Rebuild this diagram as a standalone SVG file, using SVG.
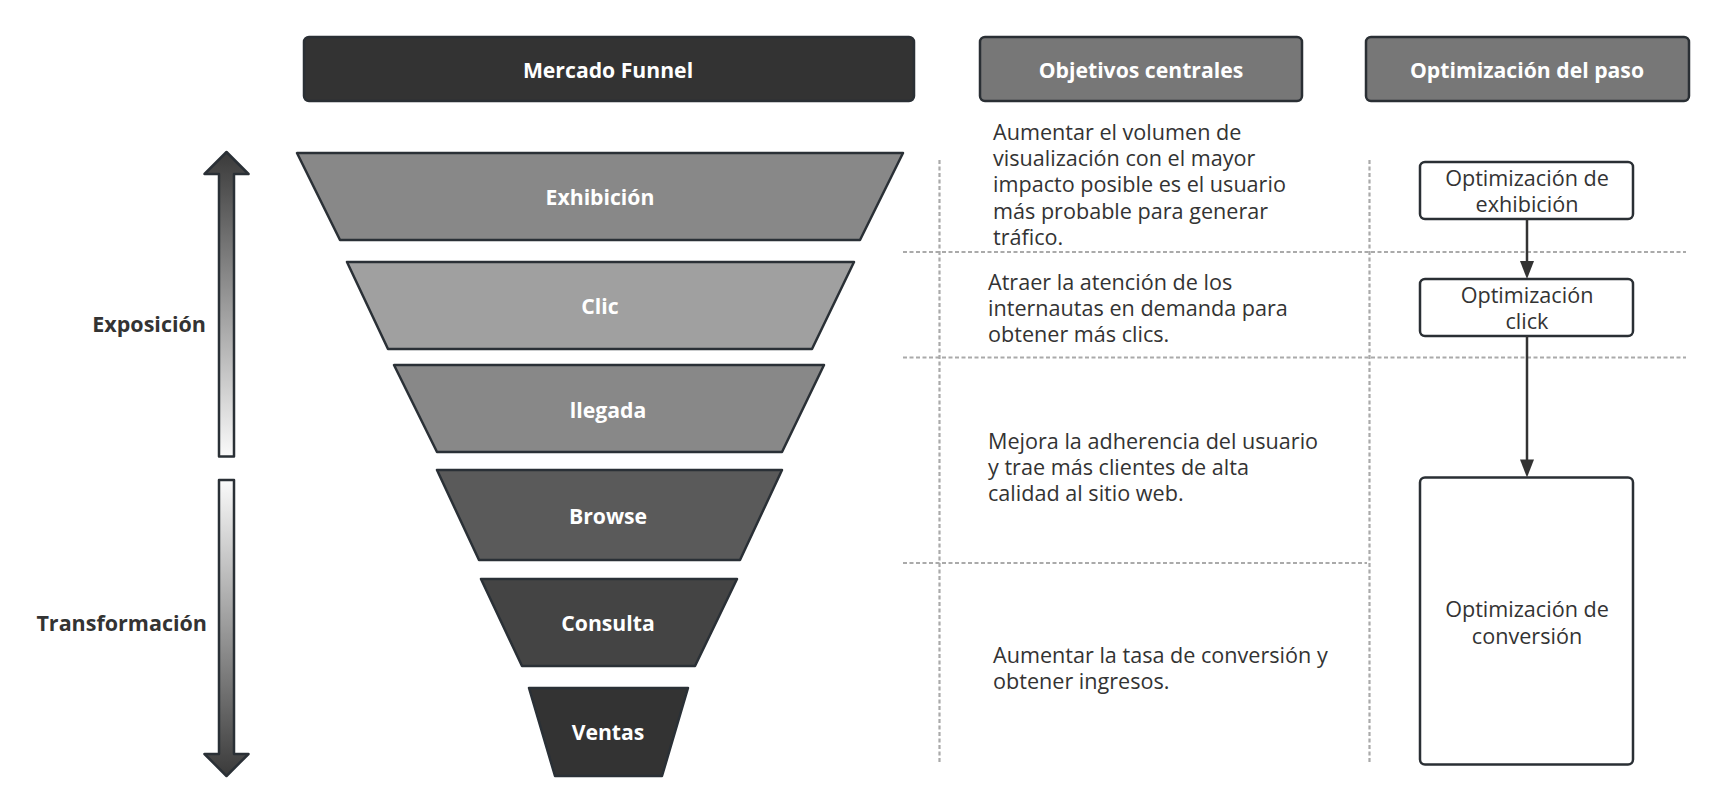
<svg xmlns="http://www.w3.org/2000/svg" width="1725" height="812" viewBox="0 0 1725 812">
<style>
.hdr{stroke:#2a2f34;stroke-width:2.5}
.trap{stroke:#2a3036;stroke-width:2.5;stroke-linejoin:round}
.bt{font-family:"Open Sans","Noto Sans",sans-serif;font-weight:bold;font-size:21.2px;fill:#fff;text-anchor:middle;dominant-baseline:central}
.lbl{font-family:"Open Sans","Noto Sans",sans-serif;font-weight:bold;font-size:21.5px;fill:#333;text-anchor:end;dominant-baseline:central}
.tx{font-family:"Open Sans","Noto Sans",sans-serif;font-size:21.6px;fill:#333;dominant-baseline:central}
.bx{fill:#fff;stroke:#2a2f34;stroke-width:2.5}
.bxt{font-family:"Open Sans","Noto Sans",sans-serif;font-size:21.6px;fill:#333;text-anchor:middle;dominant-baseline:central}
.grid{stroke:#aaa;stroke-width:2.2;stroke-dasharray:4 2.5;fill:none}
.conn{stroke:#333;stroke-width:2.5;fill:none}
</style>
<defs>
<linearGradient id="gUp" x1="0" y1="0" x2="0" y2="1">
<stop offset="0" stop-color="#3a3a3a"/>
<stop offset="1" stop-color="#fafafa"/>
</linearGradient>
<linearGradient id="gDown" x1="0" y1="0" x2="0" y2="1">
<stop offset="0" stop-color="#fafafa"/>
<stop offset="1" stop-color="#3a3a3a"/>
</linearGradient>
</defs>
<rect width="1725" height="812" fill="#fff"/>

<g id="grid-lines">
<line class="grid" x1="939.5" y1="160" x2="939.5" y2="762"/>
<line class="grid" x1="1369.5" y1="160" x2="1369.5" y2="762"/>
<line class="grid" x1="903" y1="252" x2="1686" y2="252"/>
<line class="grid" x1="903" y1="357.5" x2="1686" y2="357.5"/>
<line class="grid" x1="903" y1="563" x2="1367" y2="563"/>
</g>

<g id="header-funnel">
<rect class="hdr" x="304" y="37" width="610" height="64" rx="5" fill="#333"/>
<text class="bt" x="608" y="69">Mercado Funnel</text>
</g>
<g id="header-objetivos">
<rect class="hdr" x="980" y="37" width="322" height="64" rx="5" fill="#777"/>
<text class="bt" x="1141" y="69">Objetivos centrales</text>
</g>
<g id="header-optimizacion">
<rect class="hdr" x="1366" y="37" width="323" height="64" rx="5" fill="#777"/>
<text class="bt" x="1527" y="69">Optimización del paso</text>
</g>

<g id="arrow-up">
<path d="M226.5,152 L248.5,174 L234,174 L234,456.5 L219,456.5 L219,174 L204.5,174 Z" fill="url(#gUp)" stroke="#2a3036" stroke-width="2.5" stroke-linejoin="round"/>
</g>
<g id="arrow-down">
<path d="M219,480 L234,480 L234,754 L248.5,754 L226.5,776 L204.5,754 L219,754 Z" fill="url(#gDown)" stroke="#2a3036" stroke-width="2.5" stroke-linejoin="round"/>
</g>
<g id="label-exposicion"><text class="lbl" x="206" y="323">Exposición</text></g>
<g id="label-transformacion"><text class="lbl" x="207" y="622">Transformación</text></g>

<g id="stage-exhibicion">
<polygon class="trap" points="297,153 903,153 860,240 340,240" fill="#888"/>
<text class="bt" x="600" y="196">Exhibición</text>
</g>
<g id="stage-clic">
<polygon class="trap" points="347,262 854,262 812,349 388,349" fill="#a0a0a0"/>
<text class="bt" x="600" y="305">Clic</text>
</g>
<g id="stage-llegada">
<polygon class="trap" points="394,365 824,365 782,452 437,452" fill="#888"/>
<text class="bt" x="608" y="409">llegada</text>
</g>
<g id="stage-browse">
<polygon class="trap" points="437,470 782,470 740,560 479,560" fill="#5a5a5a"/>
<text class="bt" x="608" y="515">Browse</text>
</g>
<g id="stage-consulta">
<polygon class="trap" points="481,579 737,579 695,666 522,666" fill="#444"/>
<text class="bt" x="608" y="622">Consulta</text>
</g>
<g id="stage-ventas">
<polygon class="trap" points="529,688 688,688 662,776 555,776" fill="#333"/>
<text class="bt" x="608" y="731">Ventas</text>
</g>

<g id="obj-1">
<text class="tx" x="993" y="131">Aumentar el volumen de</text>
<text class="tx" x="993" y="157">visualización con el mayor</text>
<text class="tx" x="993" y="183.5">impacto posible es el usuario</text>
<text class="tx" x="993" y="210">más probable para generar</text>
<text class="tx" x="993" y="236">tráfico.</text>
</g>
<g id="obj-2">
<text class="tx" x="988" y="281.5">Atraer la atención de los</text>
<text class="tx" x="988" y="307">internautas en demanda para</text>
<text class="tx" x="988" y="333">obtener más clics.</text>
</g>
<g id="obj-3">
<text class="tx" x="988" y="440">Mejora la adherencia del usuario</text>
<text class="tx" x="988" y="466">y trae más clientes de alta</text>
<text class="tx" x="988" y="492.5">calidad al sitio web.</text>
</g>
<g id="obj-4">
<text class="tx" x="993" y="654.5">Aumentar la tasa de conversión y</text>
<text class="tx" x="993" y="680">obtener ingresos.</text>
</g>

<g id="opt-exhibicion">
<rect class="bx" x="1420" y="162" width="213" height="57" rx="5"/>
<text class="bxt" x="1527" y="177">Optimización de</text>
<text class="bxt" x="1527" y="203">exhibición</text>
</g>
<g id="opt-click">
<rect class="bx" x="1420" y="279" width="213" height="57" rx="5"/>
<text class="bxt" x="1527" y="294">Optimización</text>
<text class="bxt" x="1527" y="320">click</text>
</g>
<g id="opt-conversion">
<rect class="bx" x="1420" y="477.5" width="213" height="287" rx="5"/>
<text class="bxt" x="1527" y="608">Optimización de</text>
<text class="bxt" x="1527" y="635">conversión</text>
</g>

<g id="connectors">
<line class="conn" x1="1527" y1="219" x2="1527" y2="262"/>
<path d="M1520,261 L1534,261 L1527,279 Z" fill="#333"/>
<line class="conn" x1="1527" y1="336" x2="1527" y2="460"/>
<path d="M1520,459.5 L1534,459.5 L1527,477.5 Z" fill="#333"/>
</g>
</svg>
